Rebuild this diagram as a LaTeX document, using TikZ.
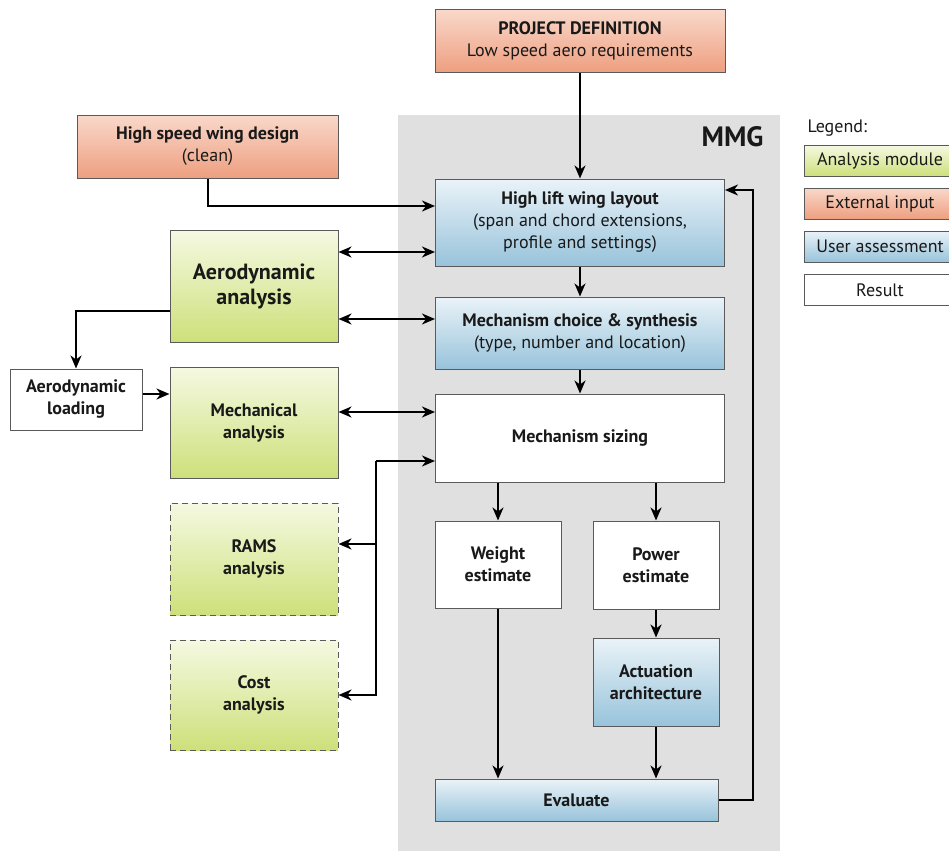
\documentclass[tikz,border=0pt]{standalone}
\usepackage{fontspec}
\setmainfont{PT Sans}
\usetikzlibrary{arrows.meta,calc}
\definecolor{grnT}{HTML}{F5F9E2}
\definecolor{grnB}{HTML}{CDE07A}
\definecolor{orgT}{HTML}{F9D8CA}
\definecolor{orgB}{HTML}{EE9F80}
\definecolor{bluT}{HTML}{EAF3F8}
\definecolor{bluB}{HTML}{98C3DB}
\definecolor{panel}{HTML}{E0E0E0}
\definecolor{edge}{HTML}{5A5A5A}
\tikzset{
  box/.style={draw=edge, line width=1pt, inner sep=0pt, align=center, font=\fontsize{18}{22}\selectfont\bfseries, text=black!90},
  green/.style={box, top color=grnT, bottom color=grnB},
  orange/.style={box, top color=orgT, bottom color=orgB},
  blue/.style={box, top color=bluT, bottom color=bluB},
  result/.style={box, fill=white},
  dashbox/.style={green, dashed, dash pattern=on 6pt off 4pt},
  arr/.style={line width=2pt, -{Stealth[length=13pt,width=11pt,inset=4pt]}},
  darr/.style={line width=2pt, {Stealth[length=13pt,width=11pt,inset=4pt]}-{Stealth[length=13pt,width=11pt,inset=4pt]}},
  leg/.style={draw=edge, line width=1pt, inner sep=0pt, minimum width=152pt, minimum height=31pt, font=\fontsize{18}{20}\selectfont, text=black!90},
}
\begin{document}
\begin{tikzpicture}[x=1pt,y=-1pt]
\useasboundingbox (0,0) rectangle (949,851);
\clip (0,0) rectangle (949,851);
% panel
\fill[panel] (398,115) rectangle (780,851);
\node[anchor=east, font=\fontsize{28}{28}\selectfont\bfseries, text=black!90] (mmg) at (767,137) {MMG};

% nodes
\node[orange, minimum width=290pt, minimum height=62pt] (proj) at (580,41)
  {PROJECT DEFINITION\\{\mdseries Low speed aero requirements}};
\node[orange, minimum width=261pt, minimum height=63pt] (hsw) at (207.5,146.5)
  {High speed wing design\\{\mdseries (clean)}};
\node[blue, minimum width=289pt, minimum height=87pt] (hlw) at (580,222.5)
  {High lift wing layout\\{\mdseries (span and chord extensions,}\\{\mdseries profile and settings)}};
\node[green, minimum width=168pt, minimum height=112pt, font=\fontsize{22}{25}\selectfont\bfseries] (aero) at (254,286)
  {Aerodynamic\\analysis};
\node[blue, minimum width=289pt, minimum height=72pt] (mcs) at (580,333)
  {Mechanism choice \& synthesis\\{\mdseries (type, number and location)}};
\node[result, minimum width=132pt, minimum height=61pt] (load) at (76,399.5)
  {Aerodynamic\\loading};
\node[green, minimum width=168pt, minimum height=111pt] (mech) at (254,422.5)
  {Mechanical\\analysis};
\node[result, minimum width=289pt, minimum height=88pt] (size) at (580,438)
  {Mechanism sizing};
\node[dashbox, minimum width=168pt, minimum height=112pt] (rams) at (254,559)
  {RAMS\\analysis};
\node[dashbox, minimum width=168pt, minimum height=110pt] (cost) at (254,695)
  {Cost\\analysis};
\node[result, minimum width=126pt, minimum height=87pt] (weight) at (498,564.5)
  {Weight\\estimate};
\node[result, minimum width=126pt, minimum height=88pt] (power) at (656,565)
  {Power\\estimate};
\node[blue, minimum width=126pt, minimum height=88pt] (act) at (656,682)
  {Actuation\\architecture};
\node[blue, minimum width=283pt, minimum height=42pt] (eval) at (576.5,800)
  {Evaluate};

% legend
\node[anchor=west, font=\fontsize{18}{20}\selectfont, text=black!90] (legt) at (804,128) {Legend:};
\node[leg, top color=grnT, bottom color=grnB] (l1) at (880,160.5) {Analysis module};
\node[leg, top color=orgT, bottom color=orgB] (l2) at (880,203.5) {External input};
\node[leg, top color=bluT, bottom color=bluB] (l3) at (880,246.5) {User assessment};
\node[leg, fill=white] (l4) at (880,290) {Result};

% connectors
\draw[arr] (proj.south) -- (proj.south |- hlw.north);
\coordinate (hswturn) at (208,206);
\draw[arr] (hsw.south -| hswturn) -- (hswturn) -- (hlw.west |- hswturn);
\coordinate (y1) at (0,252);
\draw[darr] (aero.east |- y1) -- (hlw.west |- y1);
\coordinate (y2) at (0,319);
\draw[darr] (aero.east |- y2) -- (mcs.west |- y2);
\draw[arr] (hlw.south) -- (mcs.north);
\draw[arr] (mcs.south) -- (size.north);
\coordinate (aturn) at (76,311);
\draw[arr] (aero.west |- aturn) -- (aturn) -- (load.north);
\draw[arr] (load.east |- 0,394) -- (mech.west |- 0,394);
\coordinate (y3) at (0,412);
\draw[darr] (mech.east |- y3) -- (size.west |- y3);
\coordinate (bus) at (376,461);
\draw[arr] (bus) -- (size.west |- bus);
\draw[arr] (bus) |- (rams.east |- 0,544);
\draw[arr] (bus) |- (cost.east |- 0,695);
\draw[arr] (size.south -| weight.north) -- (weight.north);
\draw[arr] (size.south -| power.north) -- (power.north);
\draw[arr] (power.south) -- (act.north);
\draw[arr] (weight.south) -- (eval.north -| weight.south);
\draw[arr] (act.south) -- (eval.north -| act.south);
\coordinate (fb) at (753,190);
\draw[arr] (eval.east) -| (fb) -- (hlw.east |- fb);
\end{tikzpicture}
\end{document}
